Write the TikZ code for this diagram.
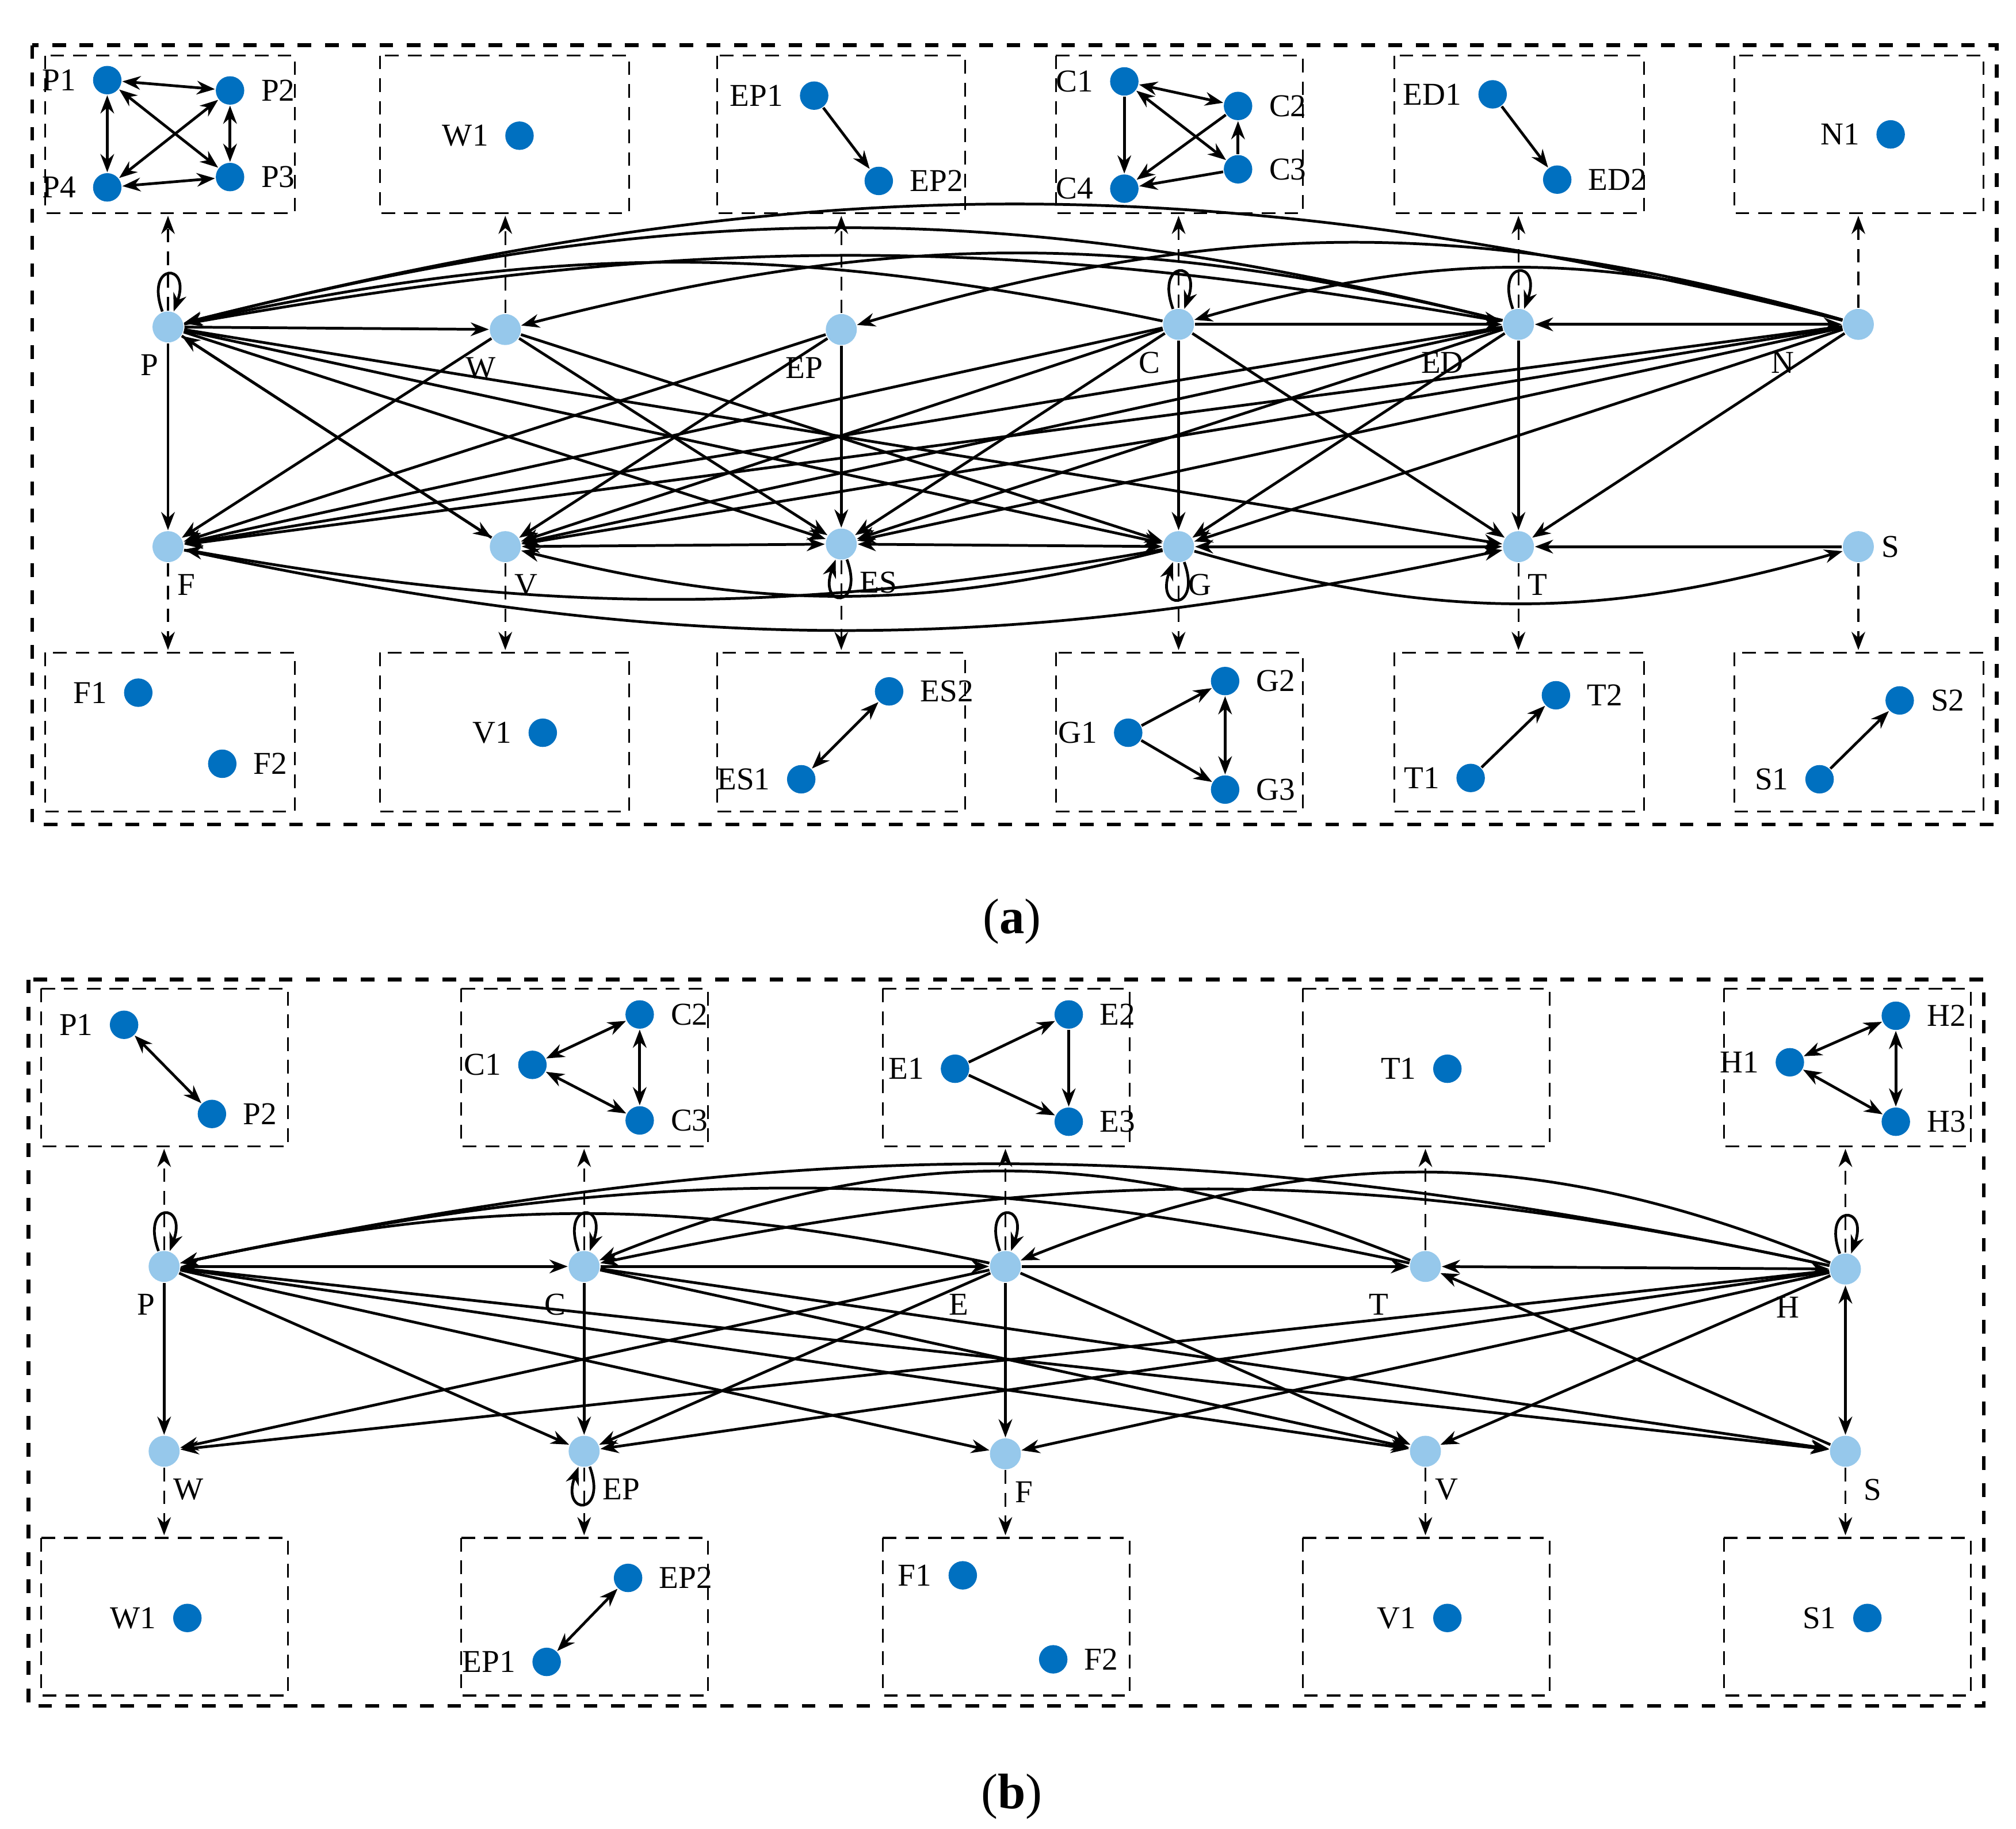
\documentclass[tikz,border=0pt]{standalone}
\usepackage{fontspec}
\setmainfont{Liberation Serif}
\usetikzlibrary{arrows.meta}

\begin{document}
\begin{tikzpicture}[x=0.01cm,y=-0.01cm,>={Stealth[length=4pt,width=3pt]},
    font=\fontsize{7}{8}\selectfont]

\tikzstyle{sub}=[circle,fill={rgb,255:red,0;green,112;blue,192},minimum size=0.22cm,inner sep=0pt]
\tikzstyle{main}=[circle,fill={rgb,255:red,150;green,200;blue,235},minimum size=0.24cm,inner sep=0pt]
\tikzstyle{grp}=[draw,densely dashed,thin]
\tikzstyle{link}=[->,semithick]
\tikzstyle{both}=[<->,semithick]
\tikzstyle{down}=[->,densely dashed,thin]
\tikzstyle{loop}=[semithick,->,looseness=12]

\useasboundingbox (0,0) rectangle (1560,1415);

%% Panel (a)
\draw [dashed,thick] (25,35) rectangle (1545,638);
\foreach \x/\w in {35/193,294/193,555/192,817/191,1079/193,1342/193} {
    \draw [grp] (\x,43) rectangle ++(\w,122);
    \draw [grp] (\x,505) rectangle ++(\w,123);
}
% subgraphs
\node (p1)[sub,label=left:P1] at (83,62) {};
\node (p2)[sub,label=right:P2] at (178,70) {};
\node (p3)[sub,label=right:P3] at (178,137) {};
\node (p4)[sub,label=left:P4] at (83,145) {};
\draw [both] (p1) -- (p2); \draw [both] (p1) -- (p3); \draw [both] (p1) -- (p4);
\draw [both] (p4) -- (p2); \draw [both] (p4) -- (p3); \draw [both] (p2) -- (p3);
\node (w1)[sub,label=left:W1] at (402,105) {};
\node (ep1)[sub,label=left:EP1] at (630,74) {};
\node (ep2)[sub,label=right:EP2] at (680,140) {};
\draw [link] (ep1) -- (ep2);
\node (c1)[sub,label=left:C1] at (870,63) {};
\node (c2)[sub,label=right:C2] at (958,82) {};
\node (c3)[sub,label=right:C3] at (958,131) {};
\node (c4)[sub,label=left:C4] at (870,146) {};
\draw [both] (c1) -- (c2); \draw [link] (c1) -- (c4); \draw [both] (c1) -- (c3);
\draw [link] (c2) -- (c4); \draw [link] (c3) -- (c2); \draw [link] (c3) -- (c4);
\node (ed1)[sub,label=left:ED1] at (1155,73) {};
\node (ed2)[sub,label=right:ED2] at (1205,139) {};
\draw [link] (ed1) -- (ed2);
\node (n1)[sub,label=left:N1] at (1463,104) {};
\node (f1)[sub,label=left:F1] at (107,536) {};
\node (f2)[sub,label=right:F2] at (172,591) {};
\node (v1)[sub,label=left:V1] at (420,567) {};
\node (es1)[sub,label=left:ES1] at (620,603) {};
\node (es2)[sub,label=right:ES2] at (688,535) {};
\draw [both] (es1) -- (es2);
\node (g1)[sub,label=left:G1] at (873,567) {};
\node (g2)[sub,label=right:G2] at (948,527) {};
\node (g3)[sub,label=right:G3] at (948,611) {};
\draw [link] (g1) -- (g2); \draw [link] (g1) -- (g3); \draw [both] (g2) -- (g3);
\node (t1)[sub,label=left:T1] at (1138,602) {};
\node (t2)[sub,label=right:T2] at (1204,538) {};
\draw [link] (t1) -- (t2);
\node (s1)[sub,label=left:S1] at (1408,603) {};
\node (s2)[sub,label=right:S2] at (1470,542) {};
\draw [link] (s1) -- (s2);

% main nodes
\node (P)[main,label={[xshift=4pt]below left:P}] at (130,253) {};
\node (W)[main,label={[xshift=4pt]below left:W}] at (391,255) {};
\node (EP)[main,label={[xshift=2pt]below left:EP}] at (651,255) {};
\node (C)[main,label={[xshift=2pt]below left:C}] at (912,251) {};
\node (ED)[main,label={[xshift=-6pt]below left:ED}] at (1175,251) {};
\node (N)[main,label={[xshift=-8pt]below left:N}] at (1438,251) {};
\node (F)[main,label={[xshift=-4pt]below right:F}] at (130,423) {};
\node (V)[main,label={[xshift=-4pt]below right:V}] at (391,423) {};
\node (ES)[main,label={[xshift=-2pt]below right:ES}] at (651,421) {};
\node (G)[main,label={[xshift=-4pt]below right:G}] at (912,423) {};
\node (T)[main,label={[xshift=-4pt]below right:T}] at (1175,423) {};
\node (S)[main,label={[xshift=-2pt]right:S}] at (1438,423) {};

\foreach \m/\s in {P/p1,W/w1,EP/ep1,C/c1,ED/ed1,N/n1} \draw [down] (\m) -- (\m |- 0,167);
\foreach \m in {F,V,ES,G,T,S} \draw [down] (\m) -- (\m |- 0,503);
\foreach \m in {P,C,ED} \draw [loop] (\m) to[out=110,in=70] (\m);
\foreach \m in {ES,G} \draw [loop] (\m) to[out=-70,in=-110] (\m);

% row edges
\draw [link] (P) -- (W);
\draw [link] (C) -- (ED);
\draw [both] (ED) -- (N);
\draw [both] (V) -- (ES);
\draw [both] (ES) -- (G);
\draw [both] (G) -- (T);
\draw [link] (S) -- (T);
\draw [link] (C) to[bend right=12] (P);
\draw [link] (ED) to[bend right=14] (P);
\draw [link] (N) to[bend right=14] (P);
\draw [link] (P) to[bend left=10] (ED);
\draw [link] (ED) to[bend right=14] (W);
\draw [link] (N) to[bend right=16] (EP);
\draw [link] (N) to[bend right=16] (C);
\draw [link] (G) to[bend left=10] (F);
\draw [link] (F) to[bend right=12] (T);
\draw [link] (G) to[bend left=14] (V);
\draw [link] (G) to[bend right=16] (S);

% vertical and crossing edges
\draw [link] (P) -- (F);
\draw [link] (EP) -- (ES);
\draw [link] (C) -- (G);
\draw [link] (ED) -- (T);
\foreach \t in {V,ES,G,T} \draw [link] (P) -- (\t);
\draw [link] (V) -- (P);
\foreach \t in {F,ES,G} \draw [link] (W) -- (\t);
\foreach \t in {F,V} \draw [link] (EP) -- (\t);
\foreach \t in {F,V,ES,T} \draw [link] (C) -- (\t);
\foreach \t in {F,V,ES,G} \draw [link] (ED) -- (\t);
\foreach \t in {F,V,ES,G,T} \draw [link] (N) -- (\t);

\node (capa) at (783,713) {\fontsize{11}{12}\selectfont(\textbf{a})};

%% Panel (b)
\draw [dashed,thick] (22,758) rectangle (1535,1320);
\foreach \x in {32,357,683,1008,1334} {
    \draw [grp] (\x,765) rectangle ++(191,122);
    \draw [grp] (\x,1190) rectangle ++(191,122);
}
\node (bp1)[sub,label=left:P1] at (96,793) {};
\node (bp2)[sub,label=right:P2] at (164,862) {};
\draw [both] (bp1) -- (bp2);
\node (bc1)[sub,label=left:C1] at (412,824) {};
\node (bc2)[sub,label=right:C2] at (495,785) {};
\node (bc3)[sub,label=right:C3] at (495,867) {};
\draw [both] (bc1) -- (bc2); \draw [both] (bc1) -- (bc3); \draw [both] (bc2) -- (bc3);
\node (be1)[sub,label=left:E1] at (739,827) {};
\node (be2)[sub,label=right:E2] at (827,785) {};
\node (be3)[sub,label=right:E3] at (827,868) {};
\draw [link] (be1) -- (be2); \draw [link] (be1) -- (be3); \draw [link] (be2) -- (be3);
\node (bt1)[sub,label=left:T1] at (1120,827) {};
\node (bh1)[sub,label=left:H1] at (1385,822) {};
\node (bh2)[sub,label=right:H2] at (1467,786) {};
\node (bh3)[sub,label=right:H3] at (1467,868) {};
\draw [both] (bh1) -- (bh2); \draw [both] (bh1) -- (bh3); \draw [both] (bh2) -- (bh3);
\node (bw1)[sub,label=left:W1] at (145,1252) {};
\node (bep1)[sub,label=left:EP1] at (423,1286) {};
\node (bep2)[sub,label=right:EP2] at (486,1221) {};
\draw [both] (bep1) -- (bep2);
\node (bf1)[sub,label=left:F1] at (745,1219) {};
\node (bf2)[sub,label=right:F2] at (815,1284) {};
\node (bv1)[sub,label=left:V1] at (1120,1252) {};
\node (bs1)[sub,label=left:S1] at (1445,1252) {};

\node (bP)[main,label={[xshift=4pt]below left:P}] at (127,980) {};
\node (bC)[main,label={[xshift=2pt]below left:C}] at (452,980) {};
\node (bE)[main,label={[xshift=-2pt]below left:E}] at (778,980) {};
\node (bT)[main,label={[xshift=-2pt]below left:T}] at (1103,980) {};
\node (bH)[main,label={[xshift=-4pt]below left:H}] at (1428,982) {};
\node (bW)[main,label={[xshift=-4pt]below right:W}] at (127,1123) {};
\node (bEP)[main,label={[xshift=-2pt]below right:EP}] at (452,1123) {};
\node (bF)[main,label={[xshift=-4pt]below right:F}] at (778,1125) {};
\node (bV)[main,label={[xshift=-4pt]below right:V}] at (1103,1123) {};
\node (bS)[main,label={[xshift=-2pt]below right:S}] at (1428,1123) {};

\foreach \m in {bP,bC,bE,bT,bH} \draw [down] (\m) -- (\m |- 0,889);
\foreach \m in {bW,bEP,bF,bV,bS} \draw [down] (\m) -- (\m |- 0,1188);
\foreach \m in {bP,bC,bE,bH} \draw [loop] (\m) to[out=110,in=70] (\m);
\draw [loop] (bEP) to[out=-70,in=-110] (bEP);

\draw [both] (bP) -- (bC);
\draw [link] (bC) -- (bE);
\draw [link] (bE) -- (bT);
\draw [both] (bT) -- (bH);
\draw [link] (bE) to[bend right=12] (bP);
\draw [link] (bT) to[bend right=12] (bP);
\draw [link] (bH) to[bend right=12] (bP);
\draw [link] (bT) to[bend right=22] (bC);
\draw [link] (bH) to[bend right=12] (bC);
\draw [link] (bH) to[bend right=22] (bE);

\draw [link] (bP) -- (bW);
\draw [link] (bC) -- (bEP);
\draw [link] (bE) -- (bF);
\draw [both] (bH) -- (bS);
\draw [link] (bS) -- (bT);
\foreach \t in {bEP,bF,bV,bS} \draw [link] (bP) -- (\t);
\foreach \t in {bV,bS} \draw [link] (bC) -- (\t);
\foreach \t in {bW,bEP,bV} \draw [link] (bE) -- (\t);
\foreach \t in {bW,bEP,bF,bV} \draw [link] (bH) -- (\t);

\node (capb) at (783,1390) {\fontsize{11}{12}\selectfont(\textbf{b})};
\end{tikzpicture}
\end{document}
